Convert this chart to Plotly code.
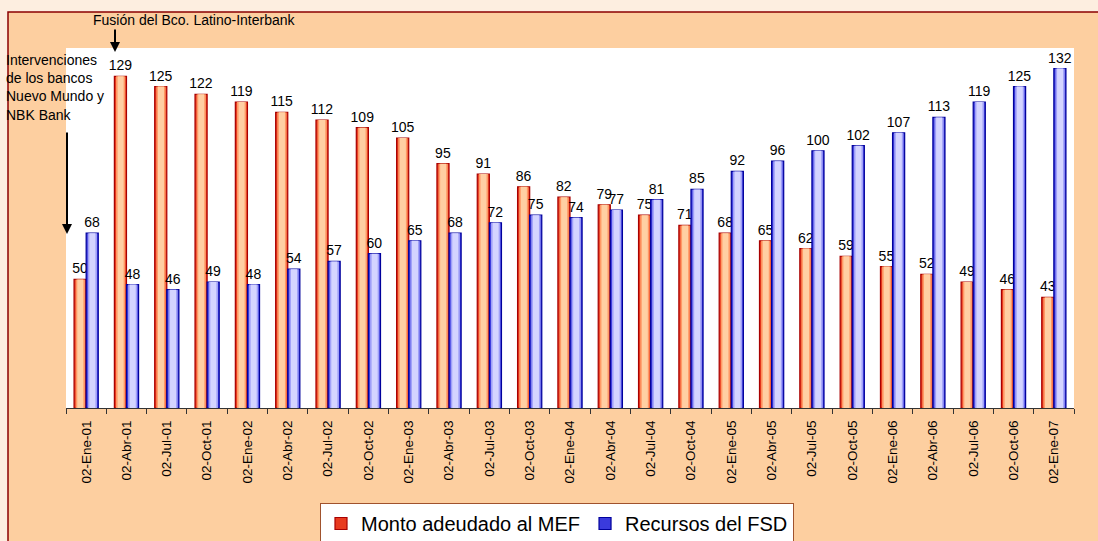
import plotly.graph_objects as go

fechas = ["02-Ene-01", "02-Abr-01", "02-Jul-01", "02-Oct-01", "02-Ene-02", "02-Abr-02", "02-Jul-02",
          "02-Oct-02", "02-Ene-03", "02-Abr-03", "02-Jul-03", "02-Oct-03", "02-Ene-04", "02-Abr-04",
          "02-Jul-04", "02-Oct-04", "02-Ene-05", "02-Abr-05", "02-Jul-05", "02-Oct-05", "02-Ene-06",
          "02-Abr-06", "02-Jul-06", "02-Oct-06", "02-Ene-07"]
monto_mef = [50, 129, 125, 122, 119, 115, 112, 109, 105, 95, 91, 86, 82, 79, 75, 71, 68, 65, 62, 59,
             55, 52, 49, 46, 43]
recursos_fsd = [68, 48, 46, 49, 48, 54, 57, 60, 65, 68, 72, 75, 74, 77, 81, 85, 92, 96, 100, 102,
                107, 113, 119, 125, 132]

W, H = 1098, 541
L, R, T, B = 66, 24, 48, 133
pw, ph = W - L - R, H - T - B


def px_x(x):
    # pixel x -> paper coordinate
    return (x - L) / pw


def px_y(y):
    # pixel y (from top) -> paper coordinate
    return (T + ph - y) / ph


fig = go.Figure()

# fake the stripe gradient with stacked overlay bars: outer -> inner
series = [
    ("Monto adeudado al MEF", monto_mef, -0.3, ["#E83A1E", "#FF9966", "#FFCFA3"], "#A80000"),
    ("Recursos del FSD", recursos_fsd, 0.0, ["#3A3ADD", "#A0A0F8", "#D4D4FF"], "#00009C"),
]
for name, vals, off, cols, edge in series:
    fig.add_trace(go.Bar(
        x=fechas, y=vals, name=name, offset=off, width=0.3,
        marker=dict(color=cols[0], line=dict(color=edge, width=1.2)),
        text=vals, textposition="outside", cliponaxis=False, constraintext="none",
        textfont=dict(family="Arial", size=14, color="black"),
        legendgroup=name,
    ))
    fig.add_trace(go.Bar(
        x=fechas, y=vals, offset=off + 0.04, width=0.23,
        marker=dict(color=cols[1], line=dict(width=0)),
        showlegend=False, hoverinfo="skip", legendgroup=name,
    ))
    fig.add_trace(go.Bar(
        x=fechas, y=vals, offset=off + 0.08, width=0.15,
        marker=dict(color=cols[2], line=dict(width=0)),
        showlegend=False, hoverinfo="skip", legendgroup=name,
    ))

# peach chart area = four bands around the white plot area, then the dark red frame
peach = "#FDCFA0"
bands = [(8, W + 10, 12, T), (8, W + 10, T + ph, H + 10), (8, L, T, T + ph), (L + pw, W + 10, T, T + ph)]
shapes = [
    dict(type="rect", xref="paper", yref="paper", x0=px_x(a), x1=px_x(b), y0=px_y(d), y1=px_y(c),
         fillcolor=peach, line=dict(width=0), layer="below")
    for a, b, c, d in bands
]
shapes.append(dict(type="rect", xref="paper", yref="paper", x0=px_x(8), x1=px_x(W + 10),
                   y0=px_y(H + 10), y1=px_y(12),
                   fillcolor="rgba(0,0,0,0)", line=dict(color="#8B0000", width=1.5), layer="below"))

annos = [
    dict(xref="paper", yref="paper", x=px_x(91), y=px_y(20),
         text="Fusión del Bco. Latino-Interbank", xanchor="left", yanchor="middle",
         showarrow=False, font=dict(family="Arial", size=14, color="black")),
    dict(xref="paper", yref="paper", x=px_x(4), y=px_y(50),
         text="Intervenciones<br>de los bancos<br>Nuevo Mundo y<br>NBK Bank", align="left",
         xanchor="left", yanchor="top", showarrow=False,
         font=dict(family="Arial", size=14, color="black")),
    dict(xref="paper", yref="paper",
         x=px_x(115), y=px_y(52), ax=0, ay=-24, text="",
         showarrow=True, arrowhead=2, arrowsize=1, arrowwidth=2, arrowcolor="black"),
    dict(xref="paper", yref="paper",
         x=px_x(67), y=px_y(234), ax=0, ay=-103, text="",
         showarrow=True, arrowhead=2, arrowsize=1, arrowwidth=2, arrowcolor="black"),
]

fig.update_layout(
    width=W, height=H,
    margin=dict(l=L, r=R, t=T, b=B, pad=0, autoexpand=False),
    paper_bgcolor="#FDEEE0", plot_bgcolor="white",
    barmode="overlay",
    showlegend=True,
    legend=dict(orientation="h", x=px_x(557), y=px_y(503), xanchor="center", yanchor="top",
                bgcolor="white", bordercolor="#A0522D", borderwidth=1,
                font=dict(family="Arial", size=20, color="black"), itemwidth=30,
                traceorder="normal", tracegroupgap=0),
    shapes=shapes,
    annotations=annos,
    font=dict(family="Arial"),
)
fig.update_xaxes(type="category", tickangle=-90, tickson="boundaries", ticks="outside", ticklen=5,
                 tickcolor="#333", showline=True, linecolor="#333", linewidth=1, showgrid=False,
                 automargin=False, ticklabelstandoff=6,
                 tickfont=dict(family="Arial", size=13.5, color="black"))
fig.update_yaxes(range=[0, 140], visible=False, showgrid=False, automargin=False)

# page body margin would shift the figure by 8px
fig.write_html("out.html", config={"displayModeBar": False},
               post_script="document.body.style.margin='0';")
